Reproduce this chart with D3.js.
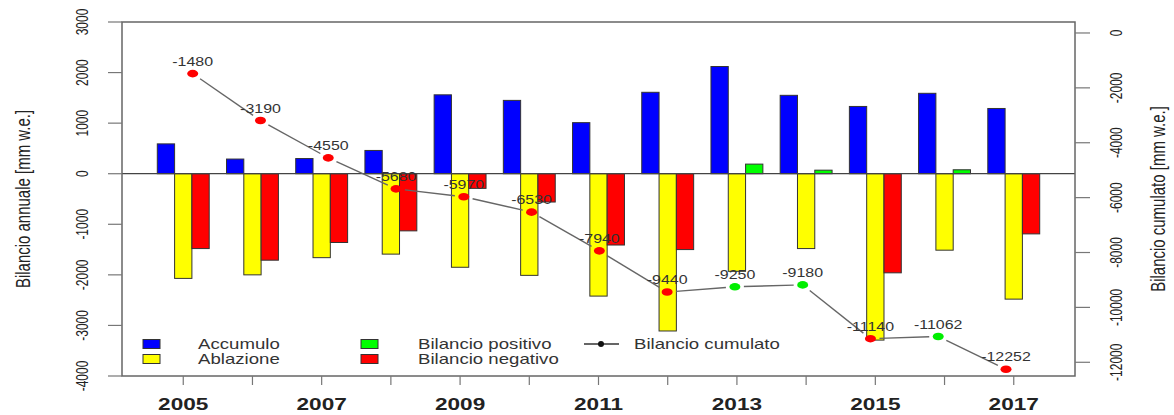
<!DOCTYPE html>
<html>
<head>
<meta charset="utf-8">
<script src="https://cdn.jsdelivr.net/npm/d3@7"></script>
<style>
  body { margin: 0; background: #fff; }
  svg text { font-family: "Liberation Sans", Arial, sans-serif; }
</style>
</head>
<body>
<svg id="chart" width="1174" height="415"></svg>
<script>
// values (mm w.e.)
const years = [2005, 2006, 2007, 2008, 2009, 2010, 2011, 2012, 2013, 2014, 2015, 2016, 2017];
const accumulo = [590, 290, 300, 460, 1560, 1450, 1010, 1610, 2120, 1550, 1330, 1590, 1290];
const ablazione = [-2070, -2000, -1660, -1590, -1850, -2010, -2420, -3110, -1930, -1480, -3290, -1512, -2480];
const bilancio = [-1480, -1710, -1360, -1130, -290, -560, -1410, -1500, 190, 70, -1960, 78, -1190];
const cumulato = [-1480, -3190, -4550, -5680, -5970, -6530, -7940, -9440, -9250, -9180, -11140, -11062, -12252];

const leftTicks = [3000, 2000, 1000, 0, -1000, -2000, -3000, -4000];
const rightTicks = [0, -2000, -4000, -6000, -8000, -10000, -12000];
const yearLabels = [2005, 2007, 2009, 2011, 2013, 2015, 2017];

const legendItems = [
    { key: 'Accumulo', color: '#0000ff', col: 0, row: 0 },
    { key: 'Ablazione', color: '#ffff00', col: 0, row: 1 },
    { key: 'Bilancio positivo', color: '#00ff00', col: 1, row: 0 },
    { key: 'Bilancio negativo', color: '#ff0000', col: 1, row: 1 }
];

// the picture is stretched sideways, text too
const SX = 1.33;

const svg = d3.select('#chart');
const box = { left: 122, right: 1075, top: 22, bottom: 376 };

// bar layout in R barplot units (3 bars + 1 gap per year)
const xUnit = d3.scaleLinear().domain([-1.04, 54.04]).range([box.left, box.right]);
const xBand = d3.scaleBand().domain(years).range([xUnit(1), xUnit(52)]).paddingInner(0.25);
const xSub = d3.scaleBand().domain(['acc', 'abl', 'bal']).range([0, xBand.bandwidth()]);
const xLine = d3.scaleLinear().domain([2005, 2017]).range([192.7, 1006]);

const yL = d3.scaleLinear().domain([-4000, 3000]).range([box.bottom, box.top]);
const yR = d3.scaleLinear().domain([-12500, 400]).range([box.bottom, box.top]);

function put(sel, x, y, rot) {
    return sel.attr('transform', `translate(${x},${y}) scale(${SX},1) rotate(${rot || 0})`);
}

// bars
const rows = years.map((y, i) => ({ year: y, acc: accumulo[i], abl: ablazione[i], bal: bilancio[i] }));
const bars = svg.append('g').attr('stroke', '#333').attr('stroke-width', 1);
['acc', 'abl', 'bal'].forEach(k => {
    bars.selectAll('rect.' + k)
        .data(rows)
        .join('rect')
        .attr('class', k)
        .attr('x', d => xBand(d.year) + xSub(k))
        .attr('width', xSub.bandwidth())
        .attr('y', d => yL(Math.max(0, d[k])))
        .attr('height', d => Math.abs(yL(d[k]) - yL(0)))
        .attr('fill', d => k === 'acc' ? '#0000ff' : k === 'abl' ? '#ffff00' : (d.bal >= 0 ? '#00ff00' : '#ff0000'));
});

// zero line
svg.append('line')
    .attr('x1', box.left).attr('x2', box.right)
    .attr('y1', yL(0)).attr('y2', yL(0))
    .attr('stroke', '#444').attr('stroke-width', 1.2);

// cumulated balance, R type="b" (segments with gaps round the points)
const pts = years.map((y, i) => ({ x: xLine(y), y: yR(cumulato[i]), v: cumulato[i], pos: bilancio[i] >= 0 }));
const gap = 9;
const segs = d3.pairs(pts).map(([a, b]) => {
    const dx = b.x - a.x, dy = b.y - a.y, len = Math.hypot(dx, dy);
    return { x1: a.x + dx / len * gap, y1: a.y + dy / len * gap, x2: b.x - dx / len * gap, y2: b.y - dy / len * gap };
});
svg.append('g').selectAll('line')
    .data(segs)
    .join('line')
    .attr('x1', d => d.x1).attr('y1', d => d.y1)
    .attr('x2', d => d.x2).attr('y2', d => d.y2)
    .attr('stroke', '#666').attr('stroke-width', 1.4);

svg.append('g').selectAll('ellipse')
    .data(pts)
    .join('ellipse')
    .attr('cx', d => d.x).attr('cy', d => d.y)
    .attr('rx', 5.5).attr('ry', 3.8)
    .attr('fill', d => d.pos ? '#00ee00' : '#ff0000');

svg.append('g').selectAll('text')
    .data(pts)
    .join('text')
    .each(function (d) { put(d3.select(this), d.x, d.y - 8); })
    .attr('text-anchor', 'middle')
    .attr('font-size', 12)
    .attr('fill', '#333')
    .text(d => d.v);

// frame
svg.append('rect')
    .attr('x', box.left).attr('y', box.top)
    .attr('width', box.right - box.left).attr('height', box.bottom - box.top)
    .attr('fill', 'none').attr('stroke', '#666').attr('stroke-width', 1.5);

// left axis
const gl = svg.append('g');
gl.selectAll('line')
    .data(leftTicks)
    .join('line')
    .attr('x1', box.left - 14).attr('x2', box.left)
    .attr('y1', d => yL(d)).attr('y2', d => yL(d))
    .attr('stroke', '#777').attr('stroke-width', 1.2);
gl.selectAll('text')
    .data(leftTicks)
    .join('text')
    .each(function (d) { put(d3.select(this), 88, yL(d), -90); })
    .attr('text-anchor', 'middle')
    .attr('font-size', 12)
    .attr('fill', '#222')
    .text(d => d);
put(svg.append('text'), 30, (box.top + box.bottom) / 2, -90)
    .attr('text-anchor', 'middle')
    .attr('font-size', 15)
    .attr('fill', '#222')
    .text('Bilancio annuale [mm w.e.]');

// right axis
const gr = svg.append('g');
gr.selectAll('line')
    .data(rightTicks)
    .join('line')
    .attr('x1', box.right).attr('x2', box.right + 15)
    .attr('y1', d => yR(d)).attr('y2', d => yR(d))
    .attr('stroke', '#777').attr('stroke-width', 1.2);
gr.selectAll('text')
    .data(rightTicks)
    .join('text')
    .each(function (d) { put(d3.select(this), 1122, yR(d), -90); })
    .attr('text-anchor', 'middle')
    .attr('font-size', 12)
    .attr('fill', '#222')
    .text(d => d);
put(svg.append('text'), 1165, (box.top + box.bottom) / 2, -90)
    .attr('text-anchor', 'middle')
    .attr('font-size', 15)
    .attr('fill', '#222')
    .text('Bilancio cumulato [mm w.e.]');

// bottom axis: a tick each year, labels on odd years
const gb = svg.append('g');
gb.selectAll('line')
    .data(years)
    .join('line')
    .attr('x1', d => xBand(d) + xBand.bandwidth() / 2)
    .attr('x2', d => xBand(d) + xBand.bandwidth() / 2)
    .attr('y1', box.bottom).attr('y2', box.bottom + 9)
    .attr('stroke', '#777').attr('stroke-width', 1.2);
gb.selectAll('text')
    .data(yearLabels)
    .join('text')
    .each(function (d) { put(d3.select(this), xBand(d) + xBand.bandwidth() / 2, 410); })
    .attr('text-anchor', 'middle')
    .attr('font-size', 17)
    .attr('font-weight', 'bold')
    .attr('fill', '#222')
    .text(d => d);

// legend
const colX = [143, 361];
const textX = [198, 418];
const rowY = [344, 359];
const lg = svg.append('g');
lg.selectAll('rect')
    .data(legendItems)
    .join('rect')
    .attr('x', d => colX[d.col]).attr('y', d => rowY[d.row] - 4.5)
    .attr('width', 17).attr('height', 9)
    .attr('fill', d => d.color)
    .attr('stroke', '#333').attr('stroke-width', 1);
lg.selectAll('text.item')
    .data(legendItems)
    .join('text')
    .attr('class', 'item')
    .each(function (d) { put(d3.select(this), textX[d.col], rowY[d.row] + 5); })
    .attr('font-size', 14)
    .attr('fill', '#333')
    .text(d => d.key);
lg.append('line')
    .attr('x1', 584).attr('x2', 619)
    .attr('y1', rowY[0]).attr('y2', rowY[0])
    .attr('stroke', '#333').attr('stroke-width', 1.3);
lg.append('circle')
    .attr('cx', 601).attr('cy', rowY[0]).attr('r', 3)
    .attr('fill', '#111');
put(lg.append('text'), 634, rowY[0] + 5)
    .attr('font-size', 14)
    .attr('fill', '#333')
    .text('Bilancio cumulato');
</script>
</body>
</html>
